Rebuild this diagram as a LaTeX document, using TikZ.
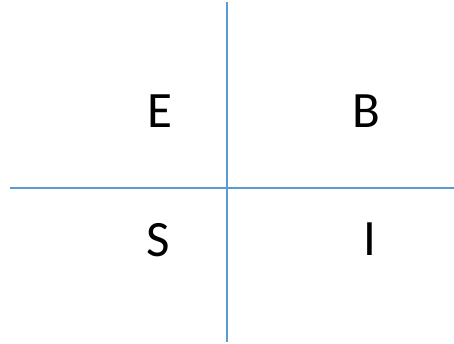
\documentclass[tikz,border=0pt]{standalone}
\usepackage{fontspec}
\setmainfont{Carlito}
\usetikzlibrary{positioning}
\definecolor{axisblue}{RGB}{91,155,213}
\tikzset{
  axis/.style={
    draw = axisblue,
    line width = 1.6pt
  },
  letter/.style={
    inner sep = 0pt,
    font = \fontsize{51}{60}\selectfont
  },
}

\begin{document}
\begin{tikzpicture}[x=1pt,y=-1pt]
		  \useasboundingbox (0,0) rectangle (454,343);
		  \coordinate (top) at (227,2);
		  \coordinate (bottom) at (227,342);
		  \coordinate (left) at (10,188);
		  \coordinate (right) at (454,188);
		  \draw[axis] (top) -- (bottom);
		  \draw[axis] (left) -- (right);
		  \node[letter] (e) at (160,111.5) {E};
		  \node[letter] (b) at (366,111.5) {B};
		  \node[letter] (s) at (158,240) {S};
		  \node[letter] (i) at (369.5,239.5) {I};
		\end{tikzpicture}
\end{document}
